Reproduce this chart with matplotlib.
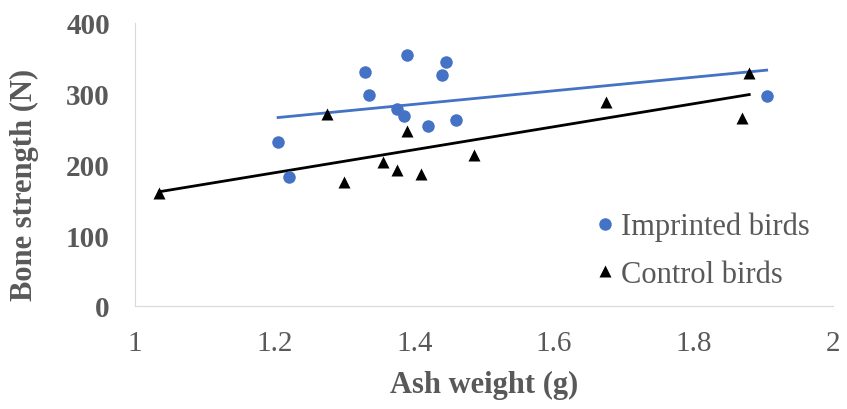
import numpy as np
import matplotlib
matplotlib.use("Agg")
import matplotlib.pyplot as plt

imp_x = [1.205, 1.22, 1.33, 1.335, 1.375, 1.385, 1.39, 1.42, 1.44, 1.445, 1.46, 1.905]
imp_y = [232, 183, 331, 298, 278, 268, 355, 255, 326, 345, 263, 297]
ctl_x = [1.035, 1.275, 1.30, 1.355, 1.375, 1.39, 1.41, 1.485, 1.675, 1.87, 1.88]
ctl_y = [160, 272, 175, 203, 192, 248, 186, 214, 289, 266, 330]
x_ticks = [1, 1.2, 1.4, 1.6, 1.8, 2]
x_tick_labels = ["1", "1.2", "1.4", "1.6", "1.8", "2"]
y_ticks = [0, 100, 200, 300, 400]

BLUE = "#4472C4"
GREY = "#595959"
plt.rcParams["font.family"] = ["Liberation Serif", "DejaVu Serif"]

fig = plt.figure(figsize=(8.47, 4.10), dpi=100)
ax = fig.add_axes([135/847, 1-307/410, (833-135)/847, (307-24)/410])

# trend lines
for xs, ys, c in [(imp_x, imp_y, BLUE), (ctl_x, ctl_y, "black")]:
    m, b = np.polyfit(xs, ys, 1)
    xx = np.array([min(xs), max(xs)])
    ax.plot(xx, m*xx + b, color=c, lw=2, zorder=2)

ax.plot(imp_x, imp_y, "o", color=BLUE, ms=9, mec="none", label="Imprinted birds", zorder=3)
ax.plot(ctl_x, ctl_y, "^", color="black", ms=9, mec="none", label="Control birds", zorder=3)

ax.set_xlim(1, 2)
ax.set_ylim(0, 400)
ax.set_xticks(x_ticks)
ax.set_xticklabels(x_tick_labels)
ax.set_yticks(y_ticks)
for s in ["top", "right"]:
    ax.spines[s].set_visible(False)
for s in ["left", "bottom"]:
    ax.spines[s].set_color("#d9d9d9")
ax.tick_params(length=0, colors=GREY, labelsize=21)
ax.tick_params(axis="y", pad=18)
ax.tick_params(axis="x", pad=17)
for t in ax.get_yticklabels():
    t.set_fontweight("bold")
ax.set_xlabel("Ash weight (g)", fontsize=22, fontweight="bold", color=GREY)
ax.set_ylabel("Bone strength (N)", fontsize=22, fontweight="bold", color=GREY)
ax.xaxis.set_label_coords(0.5, -0.225)
ax.yaxis.set_label_coords(-0.137, 0.43)

leg = ax.legend(loc="upper left", bbox_to_anchor=((593-135)/698, (307-213)/283), frameon=False,
                fontsize=22, handletextpad=0.1, labelspacing=0.6, handlelength=0.8,
                labelcolor=GREY, borderaxespad=0, borderpad=0)
fig.savefig("out.png", dpi=100)
